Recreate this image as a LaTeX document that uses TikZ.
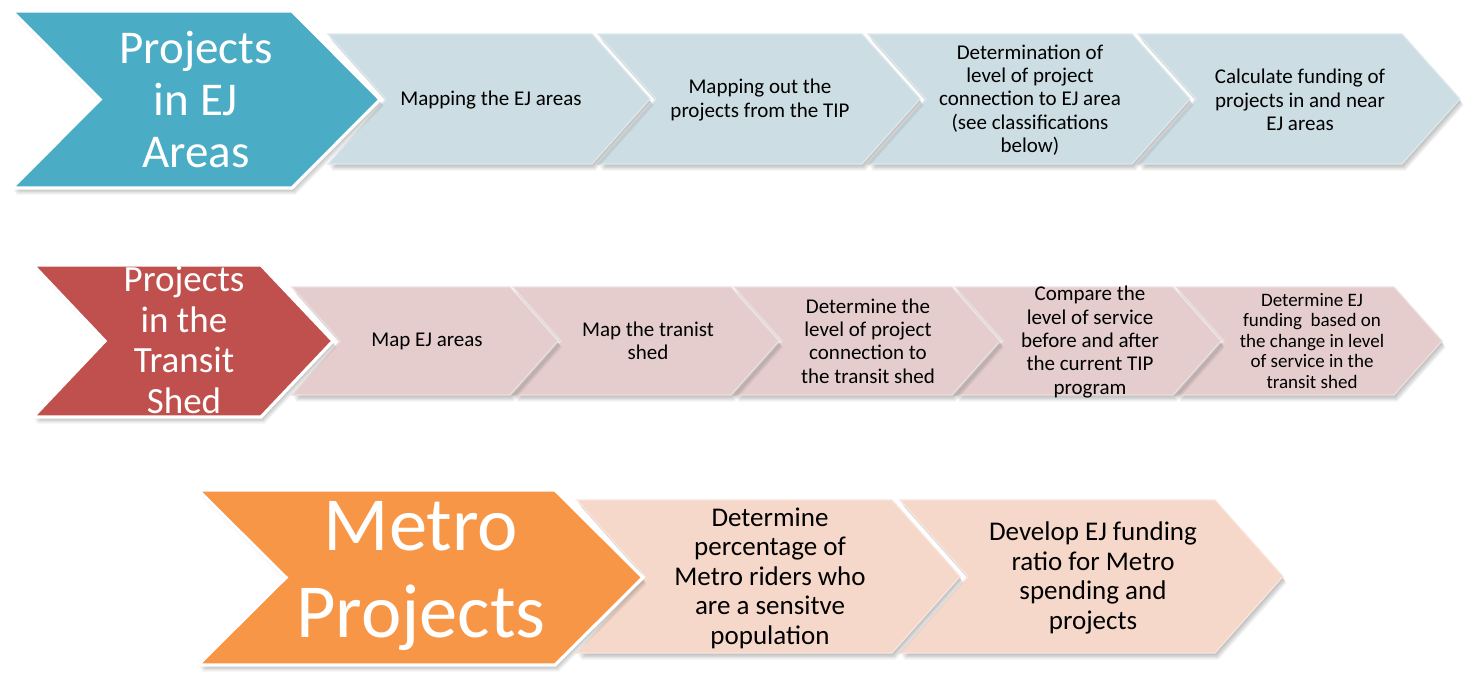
\documentclass[tikz,border=0pt]{standalone}
\usepackage{fontspec}
\setmainfont{Carlito}
\definecolor{teal1}{HTML}{4BACC6}
\definecolor{teal2}{HTML}{CCDDE4}
\definecolor{red1}{HTML}{C0504D}
\definecolor{red2}{HTML}{E5CDCD}
\definecolor{org1}{HTML}{F79646}
\definecolor{org2}{HTML}{F6D8CA}
\tikzset{
  bigchev/.style={fill=#1, draw=white, line width=3.2pt, line join=miter},
  smallchev/.style={fill=#1, draw=white!35!#1, line width=1.2pt, line join=miter},
  bigtext/.style={text=white, align=center, inner sep=0pt},
  smalltext/.style={text=black, align=center, inner sep=0pt},
}
% #1=L #2=top #3=W #4=H #5=d #6=style
\newcommand\mychev[6]{%
  \begin{scope}[shift={(#1,#2)}]
    \foreach \s in {1,2,3,4,5}{%
      \fill[black,opacity=0.055] ({\s*0.7},{\s*1.3}) -- ({#3-#5+\s*0.7},{\s*1.3}) -- ({#3+\s*0.7},{#4/2+\s*1.3}) -- ({#3-#5+\s*0.7},{#4+\s*1.3}) -- ({\s*0.7},{#4+\s*1.3}) -- ({#5+\s*0.7},{#4/2+\s*1.3}) -- cycle;}
    \path[#6] (0,0) -- ({#3-#5},0) -- (#3,{#4/2}) -- ({#3-#5},#4) -- (0,#4) -- (#5,{#4/2}) -- cycle;
  \end{scope}}
\begin{document}
\begin{tikzpicture}[x=1pt,y=-1pt]
\useasboundingbox[fill=white] (0,0) rectangle (1469,673);
% ---------- Row 1 ----------
\mychev{1138}{34}{322}{130}{58}{smallchev=teal2}
\mychev{868}{34}{322}{130}{58}{smallchev=teal2}
\mychev{598}{34}{322}{130}{58}{smallchev=teal2}
\mychev{328}{34}{322}{130}{58}{smallchev=teal2}
\mychev{12}{11}{368}{177}{88}{bigchev=teal1}
\node[bigtext, font=\fontsize{47}{52}\selectfont] (a0) at (196,99) {Projects\\in EJ\\Areas};
\node[smalltext, font=\fontsize{21}{23.3}\selectfont] (a1) at (491,100) {Mapping the EJ areas};
\node[smalltext, font=\fontsize{21}{23.3}\selectfont] (a2) at (760,100) {Mapping out the\\projects from the TIP};
\node[smalltext, font=\fontsize{21}{23.3}\selectfont] (a3) at (1030,100) {Determination of\\level of project\\connection to EJ area\\(see classifications\\below)};
\node[smalltext, font=\fontsize{21}{23.3}\selectfont] (a4) at (1300,100) {Calculate funding of\\projects in and near\\EJ areas};
% ---------- Row 2 ----------
\mychev{1176}{287}{266}{108}{48}{smallchev=red2}
\mychev{955}{287}{266}{108}{48}{smallchev=red2}
\mychev{734}{287}{266}{108}{48}{smallchev=red2}
\mychev{513}{287}{266}{108}{48}{smallchev=red2}
\mychev{292}{287}{266}{108}{48}{smallchev=red2}
\mychev{33}{265}{300}{152}{72}{bigchev=red1}
\node[bigtext, font=\fontsize{37}{40.5}\selectfont] (b0) at (184,340) {Projects\\in the\\Transit\\Shed};
\node[smalltext, font=\fontsize{21}{23.3}\selectfont] (b1) at (427,341) {Map EJ areas};
\node[smalltext, font=\fontsize{21}{23.3}\selectfont] (b2) at (648,341) {Map the tranist\\shed};
\node[smalltext, font=\fontsize{21}{23.3}\selectfont] (b3) at (868,341) {Determine the\\level of project\\connection to\\the transit shed};
\node[smalltext, font=\fontsize{21}{23.4}\selectfont] (b4) at (1090,342) {Compare the\\level of service\\before and after\\the current TIP\\program};
\node[smalltext, font=\fontsize{19}{20.5}\selectfont] (b5) at (1312,341) {Determine EJ\\funding\ \ based on\\the change in level\\of service in the\\transit shed};
% ---------- Row 3 ----------
\mychev{900}{500}{383}{153}{68}{smallchev=org2}
\mychev{577}{500}{383}{153}{68}{smallchev=org2}
\mychev{198}{490}{445}{175}{88}{bigchev=org1}
\node[bigtext, font=\fontsize{76.5}{87}\selectfont] (c0) at (421,576) {Metro\\Projects};
\node[smalltext, font=\fontsize{27}{29.5}\selectfont] (c1) at (770,578) {Determine\\percentage of\\Metro riders who\\are a sensitve\\population};
\node[smalltext, font=\fontsize{27}{29.5}\selectfont] (c2) at (1093,578) {Develop EJ funding\\ratio for Metro\\spending and\\projects};
\end{tikzpicture}
\end{document}
